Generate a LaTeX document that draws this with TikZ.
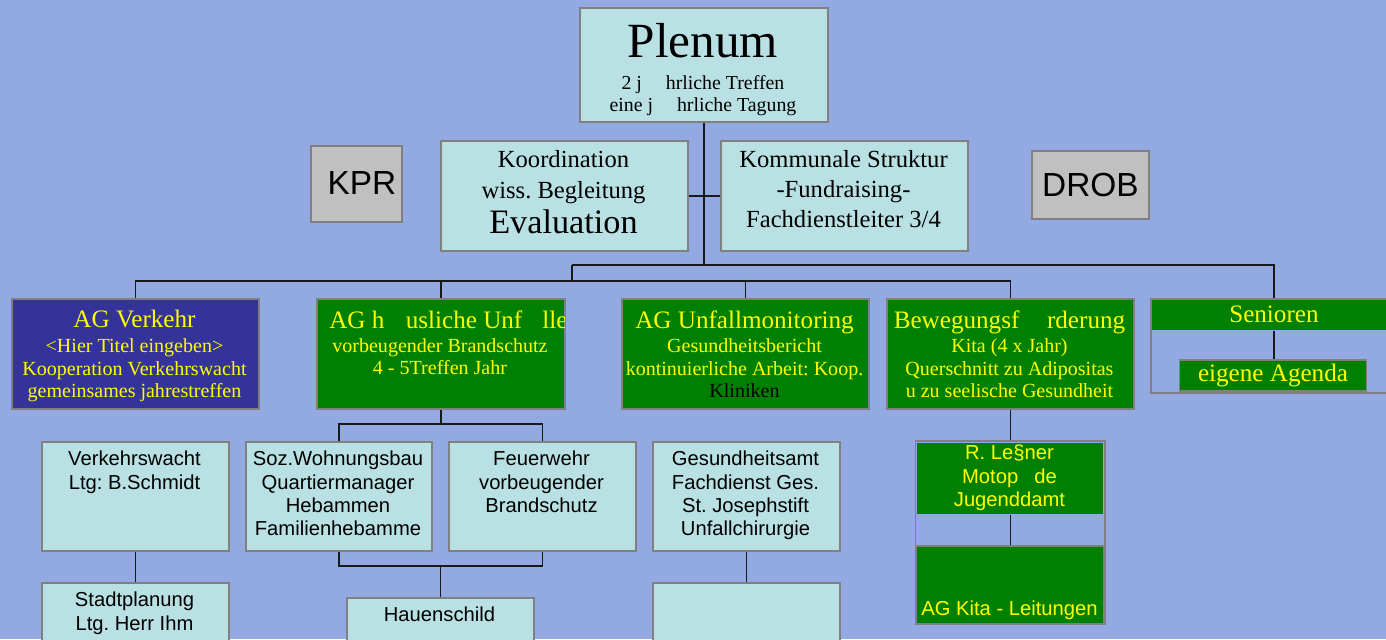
\documentclass[tikz,border=0pt]{standalone}
\usepackage{fontspec}
\setmainfont{Liberation Serif}
\setsansfont{Liberation Sans}
\usepackage{tikz}
\usetikzlibrary{calc}
\frenchspacing

\definecolor{bgblue}{RGB}{147,169,225}
\definecolor{paleblue}{RGB}{185,224,227}
\definecolor{framegray}{RGB}{128,128,128}
\definecolor{kprgray}{RGB}{192,192,192}
\definecolor{agblue}{RGB}{51,51,153}
\definecolor{aggreen}{RGB}{0,128,0}
\definecolor{agyellow}{RGB}{255,255,0}

\begin{document}
\begin{tikzpicture}[x=0.02cm, y=-0.02cm,
    orgbox/.style={draw=framegray, line width=1.1pt, fill=paleblue, inner sep=0pt, anchor=north west},
    greenbox/.style={orgbox, fill=aggreen},
    txt/.style={inner sep=0pt, anchor=north, align=center},
    rmtxt/.style={txt, font=\fontsize{11.4}{12.75}\selectfont},
    sftxt/.style={txt, font=\sffamily\fontsize{11.5}{13.2}\selectfont},
    wire/.style={line width=0.85pt, draw=black!90}]

    % =========================================================================
    % BACKGROUND
    % =========================================================================
    \useasboundingbox (0,0) rectangle (1386,639);
    \fill[bgblue] (0,0) rectangle (1386,639);
    \clip (0,0) rectangle (1386,639);

    % =========================================================================
    % TOP: Plenum and the boxes below it
    % =========================================================================
    % --- Plenum ---
    \node[orgbox, minimum width=4.96cm, minimum height=2.28cm] (plenum) at (579,7) {};
    \node[txt, font=\fontsize{11.3}{12.6}\selectfont] (plenum-txt) at (703,23)
        {{\fontsize{28}{30}\selectfont Plenum}\\[5.4pt]
         2 j\hspace{1.2em}hrliche Treffen\\
         eine j\hspace{1.2em}hrliche Tagung};

    % --- Koordination / Kommunale Struktur ---
    \node[orgbox, minimum width=4.94cm, minimum height=2.2cm] (koord) at (440,140) {};
    \node[txt, font=\fontsize{14}{17.6}\selectfont] (koord-txt) at (563.5,150)
        {Koordination\\ wiss. Begleitung\\[2.2pt] {\fontsize{19.5}{22}\selectfont Evaluation}};
    \node[orgbox, minimum width=4.94cm, minimum height=2.2cm] (komm) at (720,140) {};
    \node[txt, font=\fontsize{14}{17}\selectfont] (komm-txt) at (843.5,150)
        {Kommunale Struktur\\ -Fundraising-\\ Fachdienstleiter 3/4};

    % --- KPR / DROB ---
    \node[orgbox, fill=kprgray, minimum width=1.82cm, minimum height=1.52cm] (kpr) at (310,145) {};
    \node[inner sep=0pt, font=\sffamily\fontsize{19}{22}\selectfont] (kpr-txt) at (362,183) {KPR};
    \node[orgbox, fill=kprgray, minimum width=2.34cm, minimum height=1.36cm,
          font=\sffamily\fontsize{19}{22}\selectfont] (drob) at (1031,150) {DROB};

    % =========================================================================
    % AG ROW
    % =========================================================================
    % --- AG Verkehr ---
    \node[orgbox, fill=agblue, minimum width=4.94cm, minimum height=2.2cm] (agv) at (11,298) {};
    \node[rmtxt, text=agyellow] (agv-txt) at (134.5,310)
        {{\fontsize{14.3}{16}\selectfont AG Verkehr}\\[1.4pt]
         <Hier Titel eingeben>\\ Kooperation Verkehrswacht\\ gemeinsames jahrestreffen};

    % --- AG haeusliche Unfaelle (title runs past the box edge) ---
    \node[greenbox, minimum width=4.96cm, minimum height=2.2cm] (agh) at (316,298) {};
    \begin{scope}
        \clip (317,298) rectangle (564,408);
        \node[inner sep=0pt, anchor=north west, text=agyellow, font=\fontsize{14.3}{16}\selectfont]
            (agh-title) at (329,310) {AG h\hspace{0.85em}usliche Unf\hspace{0.8em}lle};
    \end{scope}
    \node[rmtxt, text=agyellow] (agh-txt) at (440,338) {vorbeugender Brandschutz\\ 4 - 5Treffen Jahr};

    % --- AG Unfallmonitoring ---
    \node[greenbox, minimum width=4.94cm, minimum height=2.2cm] (agu) at (621,298) {};
    \node[rmtxt, text=agyellow] (agu-txt) at (744.5,310)
        {{\fontsize{14.3}{16}\selectfont AG Unfallmonitoring}\\[1.4pt]
         Gesundheitsbericht\\ kontinuierliche Arbeit: Koop.\\ \textcolor{black}{Kliniken}};

    % --- Bewegungsfoerderung ---
    \node[greenbox, minimum width=4.94cm, minimum height=2.2cm] (bew) at (886,298) {};
    \node[rmtxt, text=agyellow] (bew-txt) at (1009.5,310)
        {{\fontsize{14.3}{16}\selectfont Bewegungsf\hspace{1.1em}rderung}\\[1.4pt]
         Kita (4 x Jahr)\\ Querschnitt zu Adipositas\\ u zu seelische Gesundheit};

    % --- Senioren ---
    \node[greenbox, draw=none, minimum width=4.92cm, minimum height=0.62cm, text=agyellow,
          font=\fontsize{14.3}{16}\selectfont] (sen-band) at (1150,298) {Senioren};
    \node[orgbox, fill=none, minimum width=4.92cm, minimum height=1.88cm] (sen) at (1150,298) {};
    \node[greenbox, anchor=center, minimum width=3.74cm, minimum height=0.62cm, text=agyellow,
          font=\fontsize{14.3}{16}\selectfont] (agenda) at (1273,375.5) {eigene Agenda};

    % =========================================================================
    % PARTNER ROWS
    % =========================================================================
    \node[orgbox, minimum width=3.74cm, minimum height=2.18cm] (verk) at (41,441) {};
    \node[sftxt] (verk-txt) at (134.5,451) {Verkehrswacht\\ Ltg: B.Schmidt};

    \node[orgbox, minimum width=3.72cm, minimum height=2.18cm] (soz) at (245,441) {};
    \node[sftxt] (soz-txt) at (338,451) {Soz.Wohnungsbau\\ Quartiermanager\\ Hebammen\\ Familienhebamme};

    \node[orgbox, minimum width=3.74cm, minimum height=2.18cm] (feuer) at (448,441) {};
    \node[sftxt] (feuer-txt) at (541.5,451) {Feuerwehr\\ vorbeugender\\ Brandschutz};

    \node[orgbox, minimum width=3.74cm, minimum height=2.18cm] (gesund) at (652,441) {};
    \node[sftxt] (gesund-txt) at (745.5,451) {Gesundheitsamt\\ Fachdienst Ges.\\ St. Josephstift\\ Unfallchirurgie};

    % --- R. Lessner / AG Kita ---
    \node[orgbox, fill=none, minimum width=3.8cm, minimum height=3.66cm] (lessner) at (914.5,440) {};
    \node[greenbox, draw=none, minimum width=3.72cm, minimum height=1.42cm] (lessner-top) at (916.5,442) {};
    \node[sftxt, text=agyellow, font=\sffamily\fontsize{11.5}{13.3}\selectfont] (lessner-txt) at (1009.5,445)
        {R. Le§ner\\ Motop\hspace{0.8em}de\\ Jugenddamt};
    \node[greenbox, minimum width=3.76cm, minimum height=1.56cm] (kita) at (915.5,545) {};
    \node[inner sep=0pt, anchor=base, text=agyellow, font=\sffamily\fontsize{11.5}{13.3}\selectfont]
        (kita-txt) at (1009.5,615) {AG Kita - Leitungen};

    % --- bottom row (cut off by the page) ---
    \node[orgbox, minimum width=3.74cm, minimum height=2cm] (stadt) at (41,582) {};
    \node[sftxt] (stadt-txt) at (134.5,592) {Stadtplanung\\ Ltg. Herr Ihm};
    \node[orgbox, minimum width=3.74cm, minimum height=2cm] (hauen) at (346,597) {};
    \node[sftxt] (hauen-txt) at (439.5,607) {Hauenschild};
    \node[orgbox, minimum width=3.74cm, minimum height=2cm] (leer) at (652,582) {};

    % =========================================================================
    % CONNECTORS
    % =========================================================================
    \coordinate (top-bus) at (572,265);
    \coordinate (ag-bus) at (572,281);
    \coordinate (agh-fork) at (440,424);
    \coordinate (hauen-fork) at (439.5,566);

    \draw[wire] (plenum.south) -- (plenum.south |- top-bus);
    \draw[wire] (koord.east) -- (komm.west);
    \draw[wire] (top-bus) -| (sen-band.north);
    \draw[wire] (top-bus) -- (ag-bus);
    \draw[wire] (agv.north) |- (ag-bus);
    \draw[wire] (ag-bus) -| (bew.north);
    \draw[wire] (agh.north) -- (agh.north |- ag-bus);
    \draw[wire] (agu.north) -- (agu.north |- ag-bus);
    \draw[wire] (sen-band.south) -- (sen-band.south |- agenda.north);

    \draw[wire] (agh.south) -- (agh.south |- agh-fork);
    \draw[wire] (soz.north) |- (agh-fork) -| (feuer.north);
    \draw[wire] (soz.south) |- (hauen-fork) -| (feuer.south);
    \draw[wire] (hauen.north) -- (hauen.north |- hauen-fork);
    \draw[wire] (verk.south) -- (stadt.north);
    \draw[wire] (gesund.south) -- (leer.north);
    \draw[wire] (bew.south) -- (bew.south |- lessner.north);
    \draw[wire] (lessner-top.south) -- (lessner-top.south |- kita.north);

\end{tikzpicture}
\end{document}
